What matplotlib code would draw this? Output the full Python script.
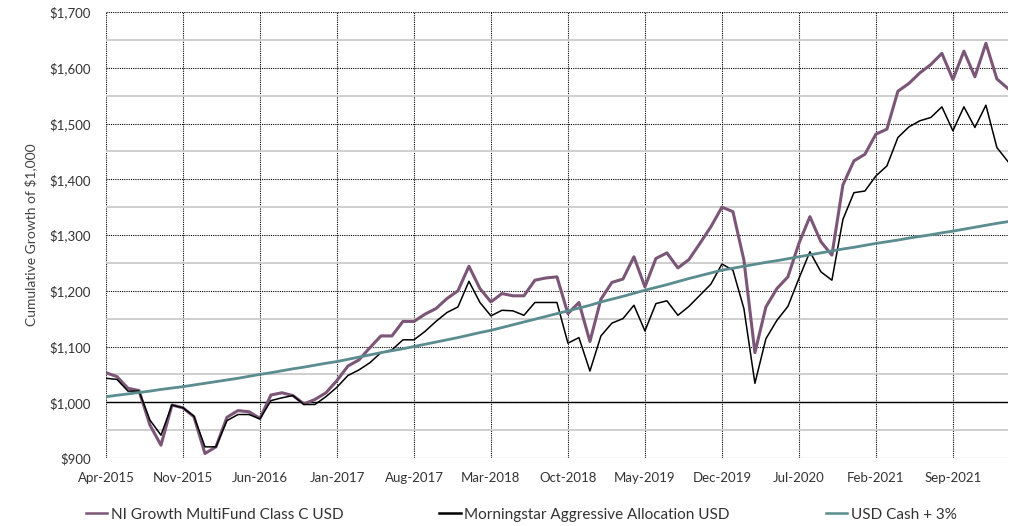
import matplotlib
matplotlib.use("Agg")
import matplotlib.pyplot as plt
from matplotlib.ticker import FuncFormatter, MultipleLocator
import numpy as np
import pandas as pd

##################
# data (monthly, Apr-2015 .. Feb-2022)
##################
months = pd.period_range("2015-04", "2022-02", freq="M")

fund = [1053, 1046, 1025, 1021, 959, 923, 995, 990, 974, 908,
        920, 973, 985, 983, 971, 1013, 1017, 1012, 997, 1005,
        1017, 1039, 1065, 1076, 1098, 1119, 1119, 1145, 1145, 1158,
        1168, 1186, 1200, 1244, 1204, 1180, 1195, 1191, 1191, 1219,
        1223, 1225, 1159, 1179, 1109, 1185, 1215, 1221, 1261, 1207,
        1258, 1268, 1241, 1256, 1285, 1315, 1350, 1342, 1255, 1089,
        1171, 1204, 1225, 1285, 1333, 1288, 1264, 1390, 1433, 1445,
        1481, 1490, 1558, 1572, 1591, 1606, 1626, 1579, 1630, 1584,
        1644, 1580, 1563]

benchmark = [1043, 1041, 1020, 1020, 968, 941, 995, 990, 975, 920,
             920, 967, 978, 978, 970, 1003, 1008, 1012, 996, 996,
             1010, 1027, 1048, 1058, 1071, 1089, 1094, 1112, 1112, 1127,
             1145, 1161, 1171, 1217, 1179, 1155, 1165, 1164, 1156, 1179,
             1179, 1179, 1106, 1116, 1056, 1119, 1142, 1150, 1174, 1128,
             1177, 1182, 1156, 1172, 1192, 1212, 1248, 1237, 1168, 1034,
             1114, 1147, 1172, 1222, 1270, 1234, 1219, 1328, 1376, 1379,
             1406, 1424, 1475, 1494, 1505, 1511, 1530, 1487, 1530, 1493,
             1533, 1457, 1432]

cash = [1010, 1012.5, 1015, 1017.5, 1020, 1023, 1025.5, 1028,
        1031, 1034, 1037, 1040, 1043, 1046.5, 1050,
        1053, 1056.5, 1060, 1063, 1066.5, 1070, 1073,
        1077, 1081, 1085, 1089, 1092.5, 1096, 1100,
        1104, 1108, 1112, 1116, 1120.5, 1125, 1129,
        1134, 1139, 1144, 1149, 1154, 1159, 1164,
        1169, 1174, 1180, 1185, 1190, 1195.5, 1201,
        1206, 1211, 1216.5, 1222, 1227, 1232, 1237,
        1240.5, 1244, 1247.5, 1251, 1254, 1257.5, 1261,
        1264.5, 1268, 1271.5, 1275, 1278, 1281.5, 1285,
        1288, 1291, 1294.5, 1297.5, 1300.5, 1304, 1307,
        1310.5, 1314, 1317.5, 1321, 1324]

series_names = ["NI Growth MultiFund Class C USD",
                "Morningstar Aggressive Allocation USD",
                "USD Cash + 3%"]
series_colors = ["#7b5677", "#000000", "#5b8c8f"]
series_widths = [2.2, 1.1, 2.0]

tick_step = 7

##################
# plot
##################
plt.rcParams["font.family"] = ["Lato", "DejaVu Sans"]

fig = plt.figure(figsize=(10.15, 5.26), dpi=100)
ax = fig.add_axes([0.1044, 0.1293, 0.8886, 0.8477])

x = np.arange(len(months))
for values, name, color, lw in zip([fund, benchmark, cash], series_names,
                                   series_colors, series_widths):
    ax.plot(x, values, color=color, linewidth=lw, label=name, zorder=3)

ax.axhline(1000, color="black", linewidth=1.0, zorder=2)

ax.set_xlim(0, len(months) - 1)
ax.set_ylim(900, 1700)
ax.yaxis.set_major_locator(MultipleLocator(100))
ax.yaxis.set_minor_locator(MultipleLocator(50))
ax.yaxis.set_major_formatter(FuncFormatter(lambda v, p: "${:,.0f}".format(v)))

tick_pos = x[::tick_step]
ax.set_xticks(tick_pos)
ax.set_xticklabels([m.strftime("%b-%Y") for m in months[::tick_step]])

ax.grid(which="major", axis="both", color="black", linestyle=(0, (1, 1)), linewidth=0.8, zorder=1)
ax.grid(which="minor", axis="y", color="#cccccc", linestyle="-", linewidth=1.3, zorder=0)

for s in ax.spines.values():
    s.set_visible(False)
ax.tick_params(which="both", length=0, labelsize=9.5, colors="#333333")
ax.tick_params(axis="y", pad=11)
ax.tick_params(axis="x", pad=10)

ax.set_ylabel("Cumulative Growth of $1,000", fontsize=10, color="#444444", labelpad=9)

leg = fig.legend(loc="lower left", bbox_to_anchor=(0.071, -0.018), ncol=3, frameon=False,
                 fontsize=11, handlelength=1.4, handletextpad=0.22, columnspacing=6.3,
                 labelcolor="#333333")
for line in leg.get_lines():
    line.set_linewidth(1.8)

fig.savefig("out.png", dpi=100)
